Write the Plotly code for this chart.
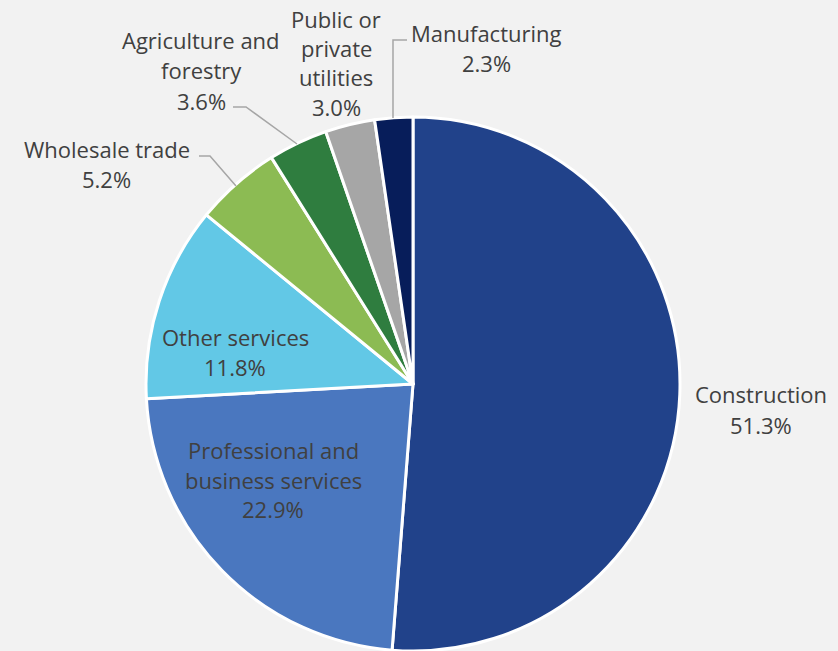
import plotly.graph_objects as go

W, H = 838, 651

categories = ["Construction", "Professional and business services", "Other services",
              "Wholesale trade", "Agriculture and forestry", "Public or private utilities",
              "Manufacturing"]
shares = [51.3, 22.9, 11.8, 5.2, 3.6, 3.0, 2.3]
colors = ["#21428a", "#4a77bf", "#62c8e6", "#8cbb53", "#2f7d3f", "#a6a6a6", "#071d5a"]

# label lines (category text split into display lines)
label_lines = [
    ["Construction"],
    ["Professional and", "business services"],
    ["Other services"],
    ["Wholesale trade"],
    ["Agriculture and", "forestry"],
    ["Public or", "private", "utilities"],
    ["Manufacturing"],
]
# label layout: (center x px, first line center y px, line spacing px)
label_pos = [
    (761, 394, 30.5),
    (273, 450, 29.5),
    (235, 336.5, 30),
    (107, 149, 29.5),
    (201, 40, 30.3),
    (336, 18.5, 29.4),
    (486, 33, 30),
]
# leader lines in px
leaders = [
    [(199, 156), (210, 156), (236, 186)],
    [(233, 107), (246, 107), (297, 144)],
    [(407, 40), (393, 40), (393, 118)],
]

FONT = "Open Sans"
FS = 22
TXT = "#404040"

fig = go.Figure(go.Pie(
    labels=categories, values=shares, sort=False, direction="clockwise", rotation=0,
    marker=dict(colors=colors, line=dict(color="white", width=3)),
    textinfo="none", hoverinfo="skip", showlegend=False,
    domain=dict(x=[146 / W, 680 / W], y=[0, 534 / H]),
))

def px(x, y):
    return x / W, 1 - y / H

ann = []
for lines, share, (cx, cy, dy) in zip(label_lines, shares, label_pos):
    all_lines = lines + [f"{share:.1f}%"]
    for i, t in enumerate(all_lines):
        x, y = px(cx, cy + i * dy)
        ann.append(dict(x=x, y=y, xref="paper", yref="paper", text=t, showarrow=False,
                        xanchor="center", yanchor="middle",
                        font=dict(family=FONT, size=FS, color=TXT)))

shapes = []
for pts in leaders:
    p = [px(*q) for q in pts]
    path = "M " + " L ".join(f"{a:.5f},{b:.5f}" for a, b in p)
    shapes.append(dict(type="path", path=path, xref="paper", yref="paper",
                       line=dict(color="#a6a6a6", width=1.5)))

fig.update_layout(
    width=W, height=H, margin=dict(l=0, r=0, t=0, b=0),
    paper_bgcolor="#f2f2f2", plot_bgcolor="#f2f2f2",
    annotations=ann, shapes=shapes,
)
fig.write_html("out.html", config={"displayModeBar": False},
               post_script="document.body.style.margin='0';document.body.style.overflow='hidden';")
